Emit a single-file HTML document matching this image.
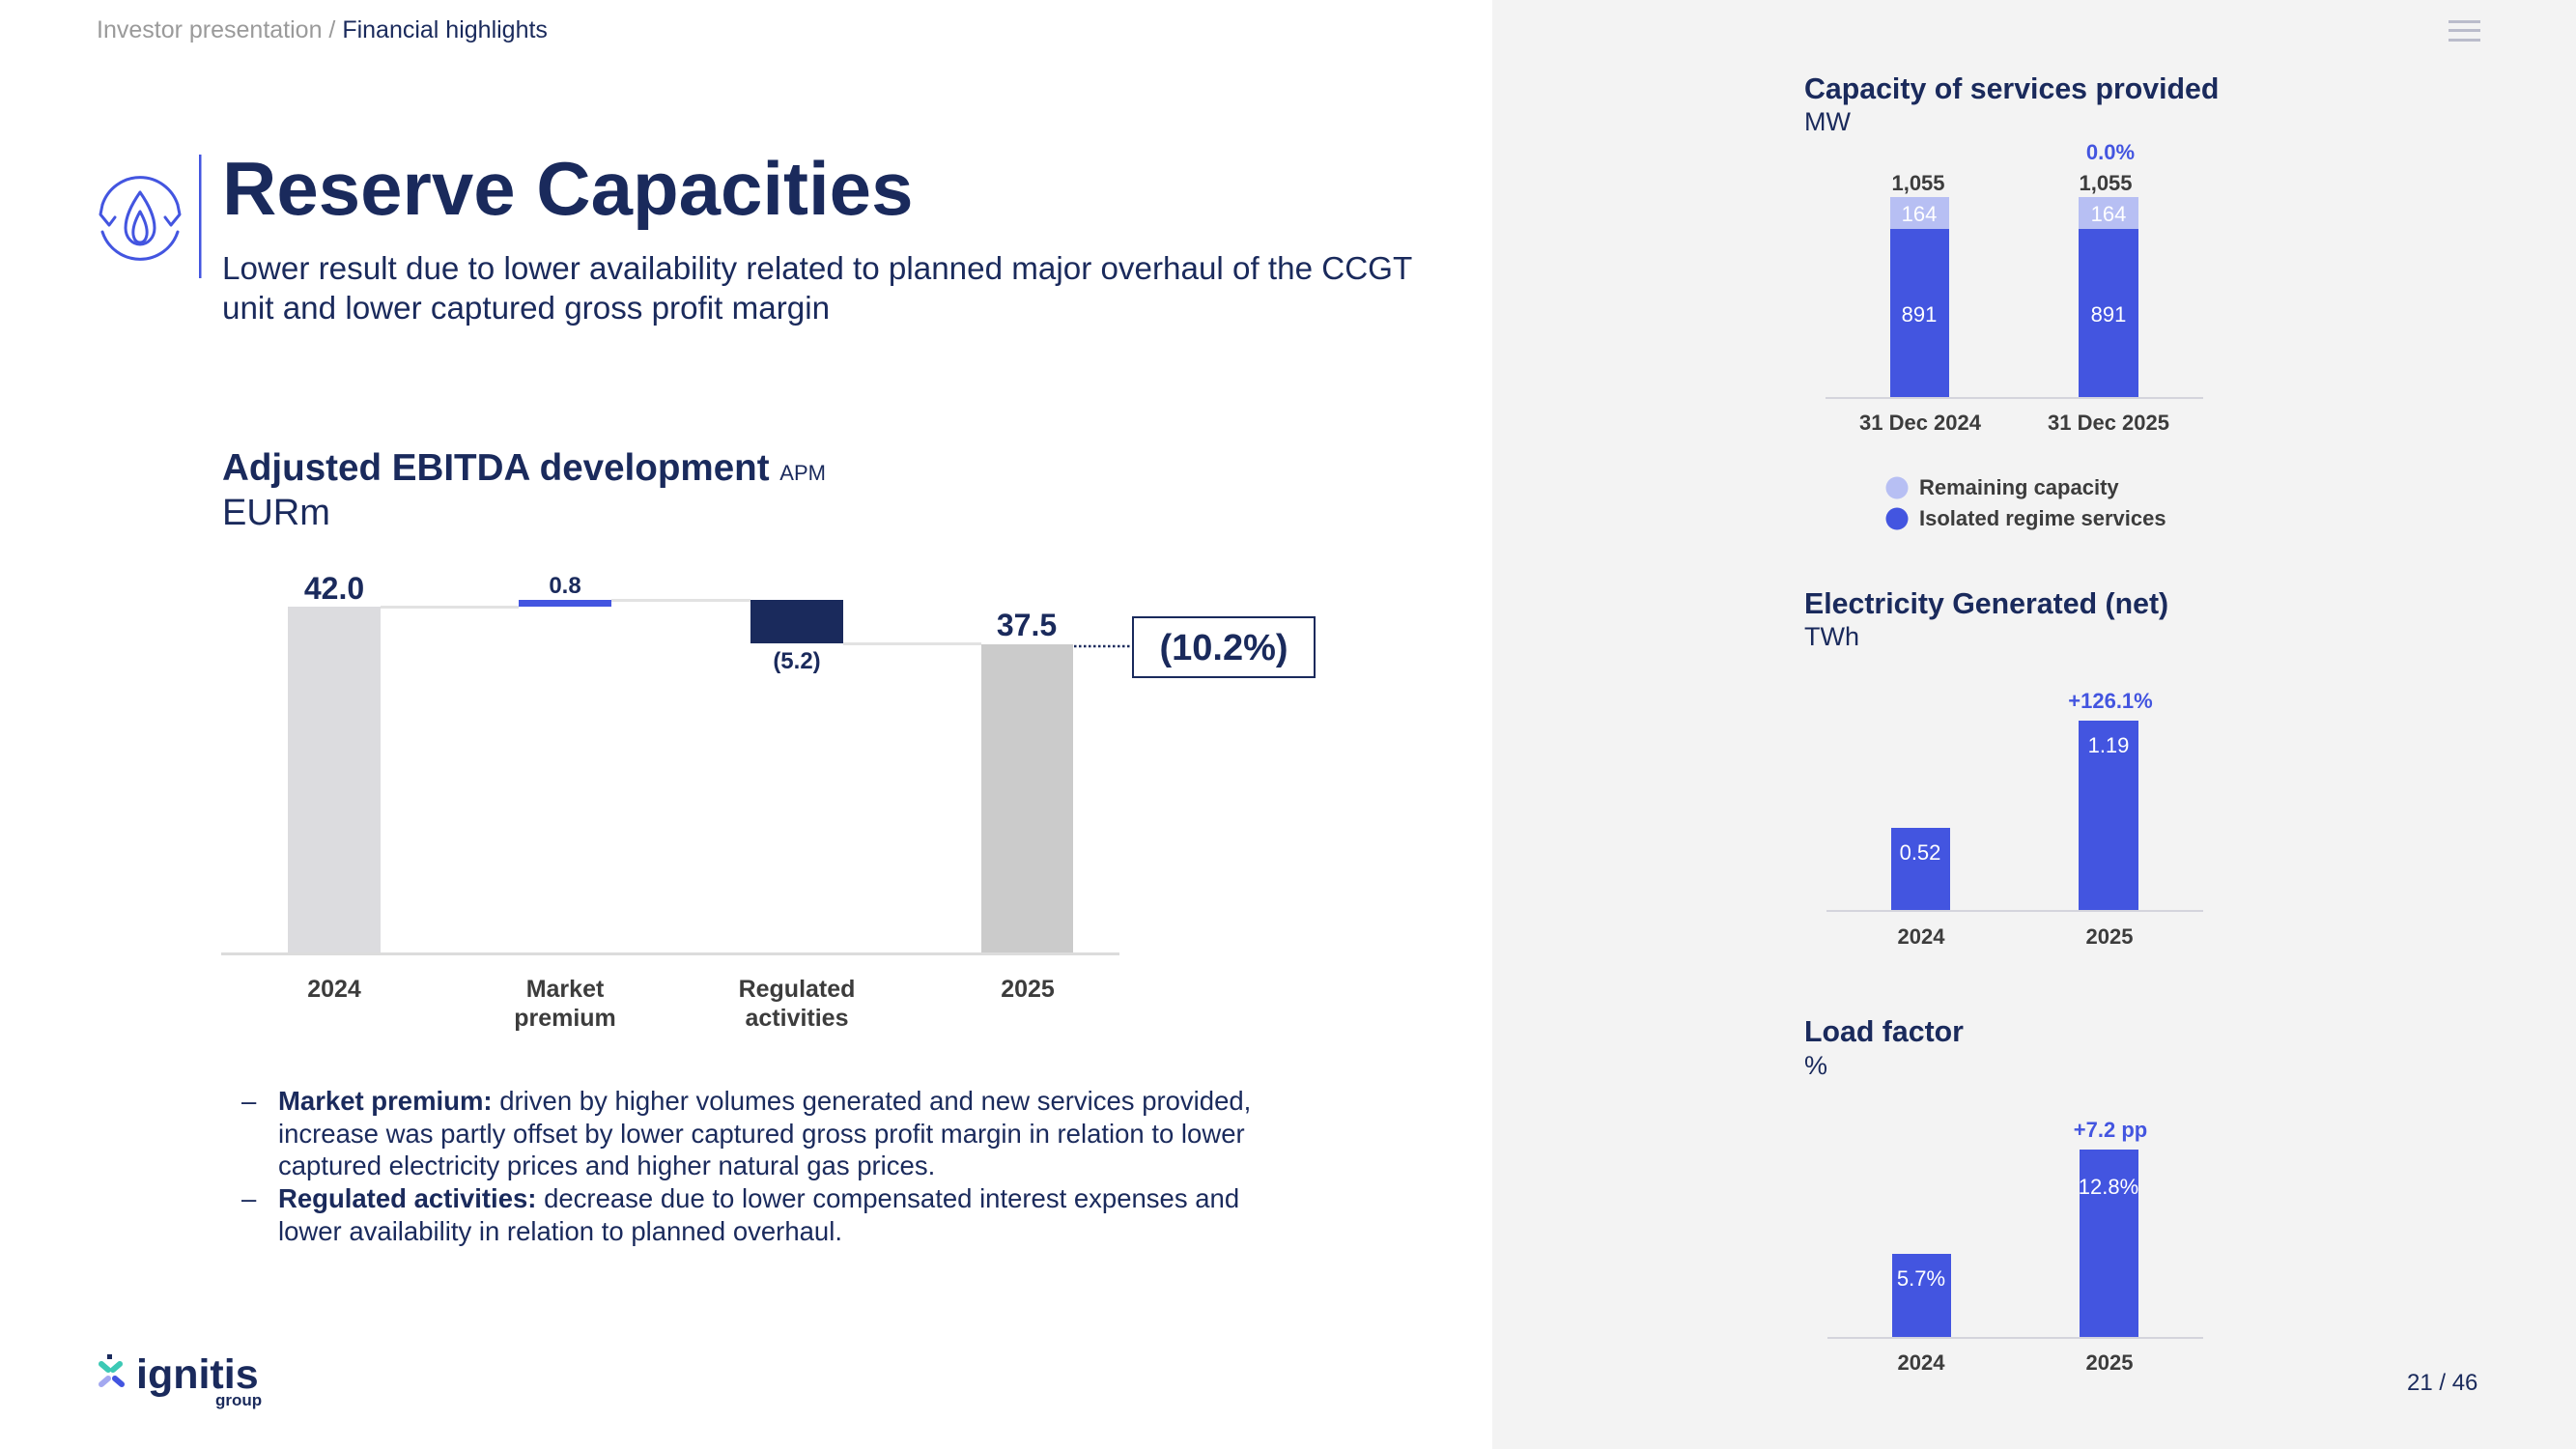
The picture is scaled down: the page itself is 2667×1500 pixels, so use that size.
<!DOCTYPE html>
<html><head><meta charset="utf-8"><style>
html,body{margin:0;padding:0;background:#fff;}
svg{display:block;font-family:"Liberation Sans",Arial,sans-serif;}
</style></head><body>
<svg width="2667" height="1500" viewBox="0 0 2667 1500" xmlns="http://www.w3.org/2000/svg">
<rect x="0" y="0" width="2667" height="1500" fill="#ffffff"/>
<rect x="1545" y="0" width="1122" height="1500" fill="#f3f3f3"/>

<!-- breadcrumb -->
<text x="100" y="39" font-size="25" fill="#9a9a9a">Investor presentation / <tspan fill="#1a2a5c">Financial highlights</tspan></text>

<!-- hamburger -->
<rect x="2535" y="21" width="33" height="3" fill="#babccb"/>
<rect x="2535" y="30" width="33" height="3" fill="#babccb"/>
<rect x="2535" y="40" width="33" height="3" fill="#babccb"/>

<!-- icon -->
<g fill="none" stroke="#4355e0" stroke-width="3" stroke-linecap="round" stroke-linejoin="round">
  <path d="M106 212 A41 41 0 0 1 184 212"/>
  <path d="M106 240 A41 41 0 0 0 184 240"/>
  <path d="M106 212 L104 222 L113 233 L119 225"/>
  <path d="M184 212 L186 222 L177 233 L171 225"/>
  <path d="M145 199 C136 212 130 224 130 236 C130 246 137 253 145 253 C153 253 160 246 160 236 C160 224 154 212 145 199 Z"/>
  <path d="M145 219 C140 228 137 236 138 243 C139 249 142 251 145 251 C148 251 151 249 152 243 C153 236 150 228 145 219 Z"/>
</g>
<rect x="206" y="160" width="2.5" height="128" fill="#4355e0"/>

<!-- titles -->
<text x="230" y="222" font-size="78" font-weight="bold" fill="#1a2a5c">Reserve Capacities</text>
<text x="230" y="289" font-size="33.2" fill="#1a2a5c">Lower result due to lower availability related to planned major overhaul of the CCGT</text>
<text x="230" y="330" font-size="33.2" fill="#1a2a5c">unit and lower captured gross profit margin</text>

<text x="230" y="497" font-size="38.6" font-weight="bold" fill="#1a2a5c">Adjusted EBITDA development <tspan font-size="22" font-weight="normal">APM</tspan></text>
<text x="230" y="543" font-size="38" fill="#1a2a5c">EURm</text>

<!-- waterfall -->
<rect x="298" y="628" width="96" height="360" fill="#dcdcdf"/>
<rect x="394" y="627" width="143" height="3" fill="#e2e2e2"/>
<rect x="537" y="621" width="96" height="7" fill="#4355e0"/>
<rect x="633" y="620" width="144" height="3" fill="#e2e2e2"/>
<rect x="777" y="621" width="96" height="45" fill="#1a2a5c"/>
<rect x="873" y="665" width="143" height="3" fill="#e2e2e2"/>
<rect x="1016" y="667" width="95" height="321" fill="#cbcbcb"/>
<line x1="1112" y1="669" x2="1172" y2="669" stroke="#1a2a5c" stroke-width="2.5" stroke-dasharray="2.5,2.5"/>
<rect x="1173" y="639" width="188" height="62" fill="#fff" stroke="#1a2a5c" stroke-width="2"/>
<rect x="229" y="986" width="930" height="3" fill="#dcdcdc"/>

<g font-weight="bold" fill="#1a2a5c" text-anchor="middle">
  <text x="346" y="620" font-size="32">42.0</text>
  <text x="585" y="614" font-size="24">0.8</text>
  <text x="825" y="692" font-size="24">(5.2)</text>
  <text x="1063" y="658" font-size="32">37.5</text>
  <text x="1267" y="683" font-size="38">(10.2%)</text>
</g>
<g font-weight="bold" fill="#3c3c3c" text-anchor="middle" font-size="25">
  <text x="346" y="1032">2024</text>
  <text x="585" y="1032">Market</text>
  <text x="585" y="1062">premium</text>
  <text x="825" y="1032">Regulated</text>
  <text x="825" y="1062">activities</text>
  <text x="1064" y="1032">2025</text>
</g>

<!-- bullets -->
<g font-size="27.5" fill="#1a2a5c">
  <text x="250" y="1149">–</text>
  <text x="288" y="1149"><tspan font-weight="bold">Market premium:</tspan> driven by higher volumes generated and new services provided,</text>
  <text x="288" y="1183">increase was partly offset by lower captured gross profit margin in relation to lower</text>
  <text x="288" y="1216">captured electricity prices and higher natural gas prices.</text>
  <text x="250" y="1250">–</text>
  <text x="288" y="1250"><tspan font-weight="bold">Regulated activities:</tspan> decrease due to lower compensated interest expenses and</text>
  <text x="288" y="1284">lower availability in relation to planned overhaul.</text>
</g>

<!-- logo -->
<g stroke-linecap="round" stroke-width="6">
  <rect x="111" y="1402" width="5" height="5" fill="#1a2a5c"/>
  <line x1="105" y1="1412" x2="112" y2="1418" stroke="#3cc9b5"/>
  <line x1="124" y1="1412" x2="117" y2="1418" stroke="#3cc9b5"/>
  <line x1="105" y1="1433" x2="112" y2="1427" stroke="#a3a8f0"/>
  <line x1="126" y1="1433" x2="119" y2="1427" stroke="#4355e0"/>
</g>
<text x="141" y="1437" font-size="43" font-weight="bold" fill="#1a2a5c">ignitis</text>
<text x="223" y="1455" font-size="17" font-weight="bold" fill="#1a2a5c">group</text>

<!-- right panel: chart 1 -->
<text x="1868" y="102" font-size="30.3" font-weight="bold" fill="#1a2a5c">Capacity of services provided</text>
<text x="1868" y="135" font-size="27" fill="#1a2a5c">MW</text>
<text x="2185" y="165" font-size="22" font-weight="bold" fill="#4355e0" text-anchor="middle">0.0%</text>
<g font-size="22" font-weight="bold" fill="#3c3c3c" text-anchor="middle">
  <text x="1986" y="197">1,055</text>
  <text x="2180" y="197">1,055</text>
</g>
<rect x="1957" y="204" width="61" height="33" fill="#b7bff3"/>
<rect x="1957" y="237" width="61" height="174" fill="#4355e0"/>
<rect x="2152" y="204" width="62" height="33" fill="#b7bff3"/>
<rect x="2152" y="237" width="62" height="174" fill="#4355e0"/>
<rect x="1890" y="411" width="391" height="2" fill="#d4d4dc"/>
<g font-size="22" fill="#ffffff" text-anchor="middle">
  <text x="1987" y="229">164</text>
  <text x="2183" y="229">164</text>
  <text x="1987" y="333">891</text>
  <text x="2183" y="333">891</text>
</g>
<g font-size="22" font-weight="bold" fill="#3c3c3c" text-anchor="middle">
  <text x="1988" y="445">31 Dec 2024</text>
  <text x="2183" y="445">31 Dec 2025</text>
</g>
<circle cx="1964" cy="505" r="11.5" fill="#b7bff3"/>
<circle cx="1964" cy="537" r="11.5" fill="#4355e0"/>
<g font-size="22" font-weight="bold" fill="#3c3c3c">
  <text x="1987" y="512">Remaining capacity</text>
  <text x="1987" y="544">Isolated regime services</text>
</g>

<!-- chart 2 -->
<text x="1868" y="635" font-size="30.3" font-weight="bold" fill="#1a2a5c">Electricity Generated (net)</text>
<text x="1868" y="668" font-size="27" fill="#1a2a5c">TWh</text>
<text x="2185" y="733" font-size="22" font-weight="bold" fill="#4355e0" text-anchor="middle">+126.1%</text>
<rect x="1958" y="857" width="61" height="85" fill="#4355e0"/>
<rect x="2152" y="746" width="62" height="196" fill="#4355e0"/>
<rect x="1891" y="942" width="390" height="2" fill="#d4d4dc"/>
<g font-size="22" fill="#ffffff" text-anchor="middle">
  <text x="1988" y="890">0.52</text>
  <text x="2183" y="779">1.19</text>
</g>
<g font-size="22" font-weight="bold" fill="#3c3c3c" text-anchor="middle">
  <text x="1989" y="977">2024</text>
  <text x="2184" y="977">2025</text>
</g>

<!-- chart 3 -->
<text x="1868" y="1078" font-size="30.3" font-weight="bold" fill="#1a2a5c">Load factor</text>
<text x="1868" y="1112" font-size="27" fill="#1a2a5c">%</text>
<text x="2185" y="1177" font-size="22" font-weight="bold" fill="#4355e0" text-anchor="middle">+7.2 pp</text>
<rect x="1959" y="1298" width="61" height="86" fill="#4355e0"/>
<rect x="2153" y="1190" width="61" height="194" fill="#4355e0"/>
<rect x="1892" y="1384" width="389" height="2" fill="#d4d4dc"/>
<g font-size="22" fill="#ffffff" text-anchor="middle">
  <text x="1989" y="1331">5.7%</text>
  <text x="2183" y="1236">12.8%</text>
</g>
<g font-size="22" font-weight="bold" fill="#3c3c3c" text-anchor="middle">
  <text x="1989" y="1418">2024</text>
  <text x="2184" y="1418">2025</text>
</g>

<!-- page number -->
<text x="2492" y="1439" font-size="24" fill="#1a2a5c">21 / 46</text>
</svg>
</body></html>
